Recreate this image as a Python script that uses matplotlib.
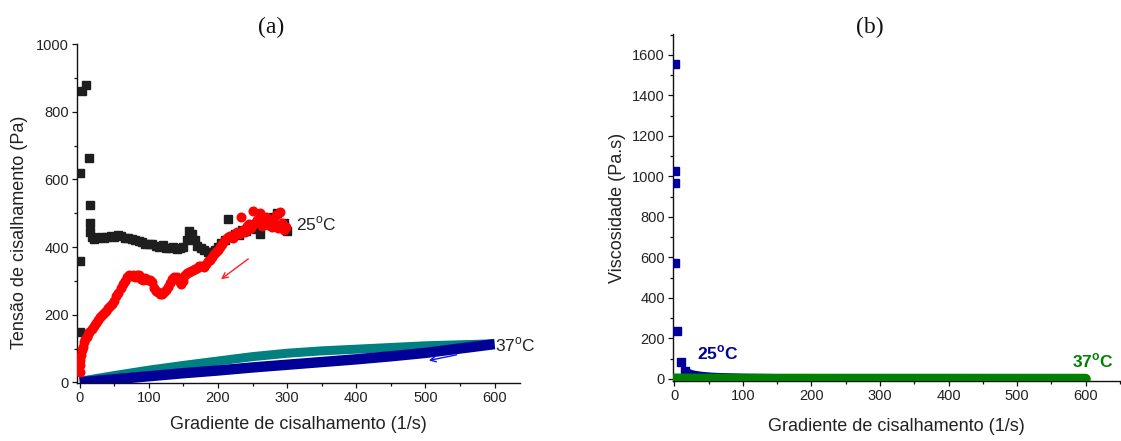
import matplotlib
matplotlib.use("Agg")
import matplotlib.pyplot as plt
from matplotlib.ticker import MultipleLocator

plt.rcParams["font.family"] = ["Liberation Sans", "DejaVu Sans"]
plt.rcParams["mathtext.fontset"] = "custom"
plt.rcParams["mathtext.rm"] = "Liberation Sans"
plt.rcParams["mathtext.bf"] = "Liberation Sans:bold"

# ---- (a) shear stress vs shear rate ----
# 25 °C, increasing shear rate
rate_25_up = [0.3, 0.5, 0.8, 2.5, 9.5, 14, 14.2, 14.5, 15, 17, 21, 25, 30, 35, 40, 45,
              50, 55, 60, 65, 70, 75, 80, 85, 90, 95, 100, 105, 110, 115, 120, 125,
              130, 135, 140, 145, 150, 155, 158, 162, 166, 170, 175, 180, 185, 190,
              195, 200, 205, 210, 215, 220, 225, 230, 235, 240, 245, 250, 255, 260,
              265, 270, 275, 280, 285, 290, 295, 300]
stress_25_up = [150, 360, 620, 860, 880, 664, 524, 470, 444, 430, 425, 428, 430, 428,
                430, 432, 430, 436, 432, 428, 426, 424, 420, 418, 414, 410, 408, 410,
                404, 400, 406, 398, 396, 400, 395, 396, 400, 420, 446, 438, 420, 404,
                398, 392, 386, 384, 392, 400, 412, 420, 482, 432, 440, 436, 450, 448,
                456, 462, 452, 440, 470, 484, 474, 488, 500, 462, 472, 448]

# 25 °C, decreasing shear rate
rate_25_down = [0, 0.5, 1, 2, 3, 4, 6, 8, 10, 12, 14, 17, 20, 23, 26, 29, 32, 35, 38,
                41, 44, 47, 50, 53, 56, 59, 62, 65, 68, 71, 74, 77, 80, 83, 86, 89, 92,
                95, 98, 101, 104, 107, 110, 113, 116, 119, 122, 125, 128, 131, 134, 137,
                140, 143, 146, 149, 152, 155, 158, 161, 164, 167, 170, 173, 176, 179,
                182, 185, 188, 191, 194, 197, 200, 203, 206, 209, 212, 215, 218, 221,
                224, 227, 230, 233, 236, 239, 242, 245, 248, 251, 254, 257, 260, 263,
                266, 269, 272, 275, 278, 281, 284, 287, 290, 293, 296, 299]
stress_25_down = [30, 50, 65, 80, 95, 105, 118, 128, 135, 142, 150, 158, 166, 175, 183,
                  192, 198, 205, 212, 220, 226, 232, 240, 255, 265, 280, 292, 300, 312,
                  318, 314, 318, 312, 316, 316, 306, 302, 308, 302, 304, 296, 280, 270,
                  266, 262, 262, 266, 272, 282, 294, 305, 312, 310, 300, 292, 300, 318,
                  322, 326, 330, 332, 336, 338, 344, 345, 340, 350, 358, 362, 372, 378,
                  385, 392, 400, 410, 418, 425, 430, 432, 428, 438, 445, 440, 490, 450,
                  445, 462, 468, 455, 506, 470, 480, 500, 462, 475, 490, 465, 480, 458,
                  472, 495, 455, 505, 470, 450, 460]

# 37 °C, increasing and decreasing shear rate
rate_37 = [0, 50, 100, 150, 200, 250, 300, 350, 400, 450, 500, 550, 600]
stress_37_up = [3, 20, 36, 50, 63, 76, 86, 93, 98, 103, 108, 111, 114]
stress_37_down = [0, 9, 18, 27, 35, 44, 52, 60, 68, 77, 87, 100, 113]

# ---- (b) viscosity vs shear rate ----
rate_v25 = [0.5, 0.7, 1.0, 1.5, 3.5, 10, 16, 20, 25, 30, 40, 50, 60, 70, 80, 90, 100,
            125, 150, 200, 250, 300]
visc_25 = [1555, 1027, 967, 573, 237, 83, 41, 30, 24, 20, 15, 12, 10, 9, 8, 7, 6, 5,
           4, 3, 2.5, 2]
rate_v37 = [0, 50, 100, 150, 200, 250, 300, 350, 400, 450, 500, 550, 600]
visc_37 = [1.5, 0.8, 0.5, 0.4, 0.35, 0.3, 0.3, 0.25, 0.25, 0.2, 0.2, 0.2, 0.2]

xlabel = "Gradiente de cisalhamento (1/s)"
tick_color = "#222222"
label_size = 13
tick_size = 10.5

fig = plt.figure(figsize=(11.21, 4.41), dpi=100)
ax1 = fig.add_axes([0.0687, 0.1315, 0.3953, 0.7685])
ax2 = fig.add_axes([0.6003, 0.136, 0.3987, 0.787])


def style_axes(ax):
    for side in ("top", "right"):
        ax.spines[side].set_visible(False)
    for side in ("left", "bottom"):
        ax.spines[side].set_linewidth(1.0)
        ax.spines[side].set_color("#111111")
    ax.tick_params(which="major", direction="out", length=3.8, width=0.9,
                   labelsize=tick_size, labelcolor=tick_color, color="#111111", pad=2)
    ax.tick_params(which="minor", direction="out", length=2.4, width=0.9,
                   color="#111111")


# (a)
ax1.plot(rate_25_up, stress_25_up, ls="none", marker="s", ms=5.6,
         color="#1e1e1e", zorder=3)
ax1.plot(rate_25_down, stress_25_down, ls="none", marker="o", ms=7.2,
         color="#ff0000", mec="none", zorder=4)
ax1.plot(rate_37, stress_37_up, color="#008080", lw=6.5,
         solid_capstyle="butt", zorder=2)
ax1.plot(rate_37, stress_37_down, color="#000099", lw=7.5,
         solid_capstyle="butt", zorder=3)
ax1.annotate("", xy=(201, 300), xytext=(247, 370),
             arrowprops=dict(arrowstyle="->", color="#ff2020", lw=1.0,
                             mutation_scale=10))
ax1.annotate("", xy=(501, 63), xytext=(549, 83),
             arrowprops=dict(arrowstyle="->", color="#1010ff", lw=1.0,
                             mutation_scale=10))
ax1.text(313, 468, r"25$^{\mathrm{o}}$C", fontsize=12.5, va="center",
         ha="left", color="#222222")
ax1.text(601, 112, r"37$^{\mathrm{o}}$C", fontsize=12.5, va="center",
         ha="left", color="#222222")
ax1.set_xlim(-4, 637)
ax1.set_ylim(-2, 1000)
ax1.xaxis.set_major_locator(MultipleLocator(100))
ax1.xaxis.set_minor_locator(MultipleLocator(50))
ax1.yaxis.set_major_locator(MultipleLocator(200))
ax1.yaxis.set_minor_locator(MultipleLocator(100))
style_axes(ax1)
ax1.set_xlabel(xlabel, fontsize=label_size, color="#222222")
ax1.set_ylabel("Tensão de cisalhamento (Pa)", fontsize=label_size, color="#222222")
ax1.xaxis.set_label_coords(0.5, -0.097)
ax1.yaxis.set_label_coords(-0.11, 0.445)

# (b)
ax2.plot(rate_v25[6:], visc_25[6:], color="#000099", lw=6.0,
         solid_capstyle="butt", zorder=2)
ax2.plot(rate_v25[:7], visc_25[:7], ls="none", marker="s", ms=5.6,
         color="#000099", zorder=3)
ax2.plot(rate_v37, visc_37, color="#008000", lw=7.5,
         solid_capstyle="round", zorder=4)
ax2.text(33, 128, r"25$^{\mathbf{o}}$C", fontsize=12.5, fontweight="bold",
         va="center", ha="left", color="#000099")
ax2.text(580, 88, r"37$^{\mathbf{o}}$C", fontsize=12.5, fontweight="bold",
         va="center", ha="left", color="#008000")
ax2.set_xlim(-2, 650)
ax2.set_ylim(-10, 1703)
ax2.xaxis.set_major_locator(MultipleLocator(100))
ax2.xaxis.set_minor_locator(MultipleLocator(50))
ax2.yaxis.set_major_locator(MultipleLocator(200))
ax2.yaxis.set_minor_locator(MultipleLocator(100))
style_axes(ax2)
ax2.set_xlabel(xlabel, fontsize=label_size, color="#222222")
ax2.set_ylabel("Viscosidade (Pa.s)", fontsize=label_size, color="#222222")
ax2.xaxis.set_label_coords(0.5, -0.107)
ax2.yaxis.set_label_coords(-0.104, 0.5)

fig.text(271 / 1121, 1 - 27 / 441, "(a)", fontsize=17, ha="center", va="center",
         family=["Liberation Serif", "DejaVu Serif"], color="#111111")
fig.text(870 / 1121, 1 - 27 / 441, "(b)", fontsize=17, ha="center", va="center",
         family=["Liberation Serif", "DejaVu Serif"], color="#111111")

fig.savefig("out.png", dpi=100)
